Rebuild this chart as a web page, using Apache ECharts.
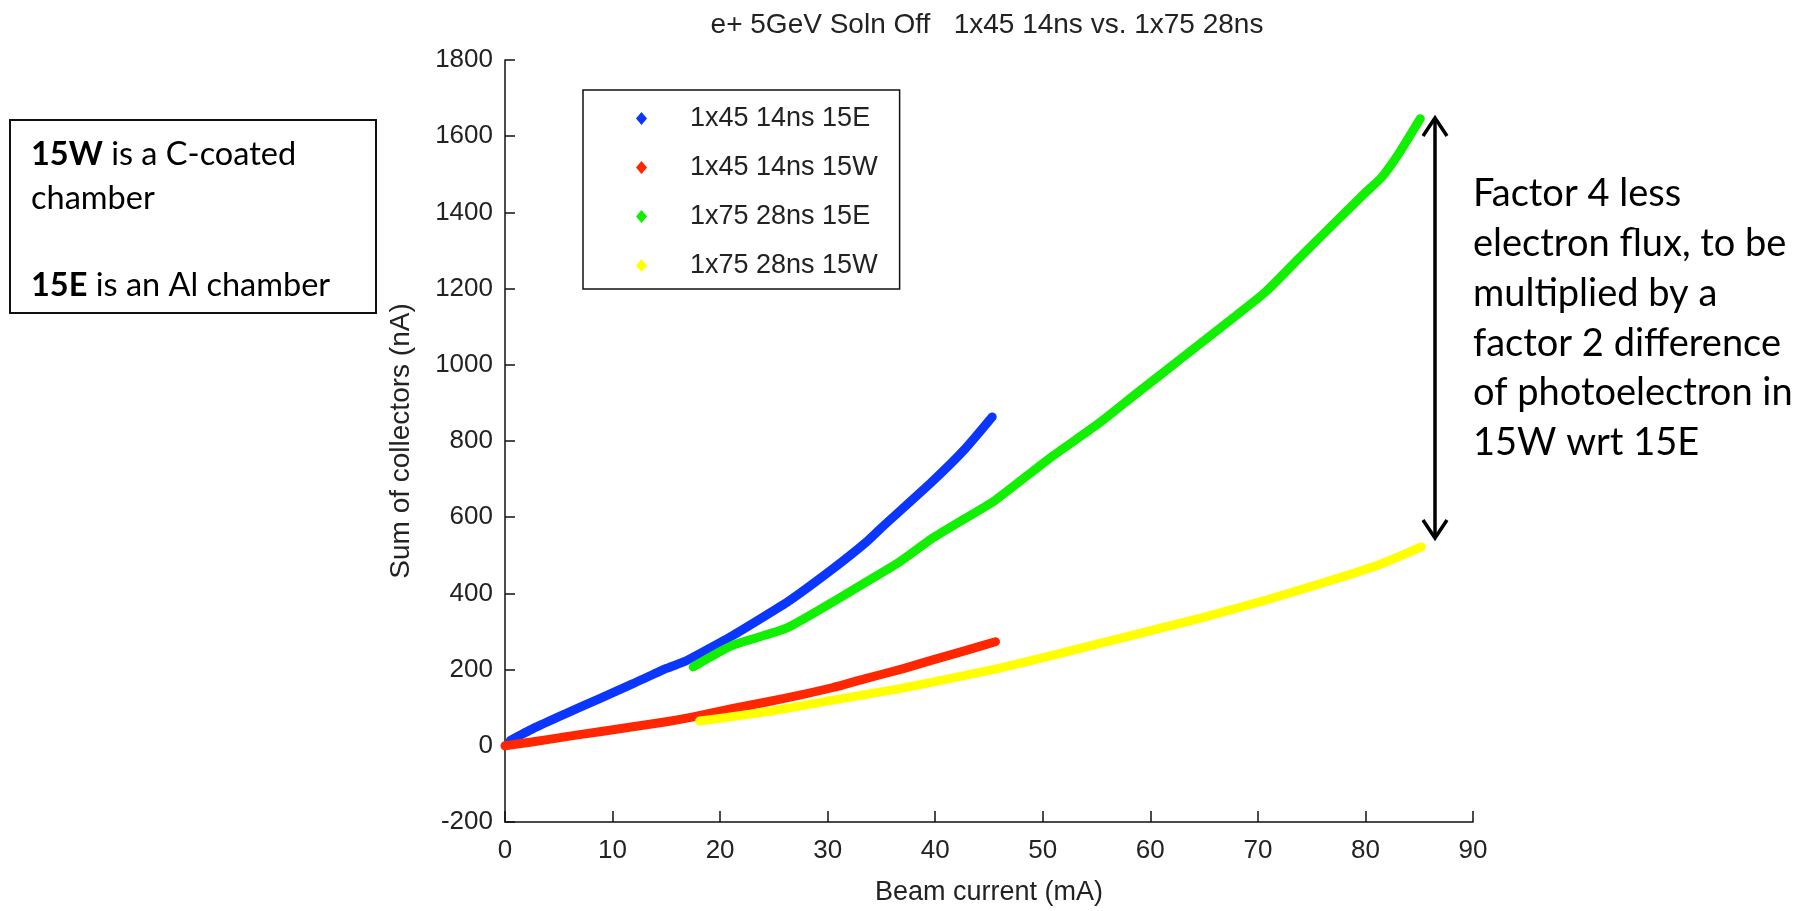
<!DOCTYPE html>
<html>
<head>
<meta charset="utf-8">
<script src="https://cdn.jsdelivr.net/npm/echarts@6/dist/echarts.min.js"></script>
<style>
html,body{margin:0;padding:0;background:#fff;}
#chart{width:1807px;height:911px;}
</style>
</head>
<body>
<div id="chart"></div>
<script>
// ---- data ----
const seriesNames = ['1x45 14ns 15E', '1x45 14ns 15W', '1x75 28ns 15E', '1x75 28ns 15W'];

const blueX = [0.5, 2.6, 5.7, 8.8, 11.9, 15.0, 16.6, 18.1, 21.2, 24.3, 26.5, 30.5, 33.6, 35.1, 39.7, 42.8, 45.3];
const blueY = [14, 45, 85, 124, 163, 203, 220, 242, 290, 343, 382, 465, 535, 575, 693, 780, 863];

const redX = [0, 2.5, 5.7, 8.8, 11.9, 15.0, 17.5, 21.2, 24.3, 27.4, 30.5, 33.6, 36.7, 39.7, 42.8, 45.6];
const redY = [0, 10, 24, 37, 50, 63, 76, 98, 115, 133, 153, 177, 200, 225, 250, 273];

const greenX = [17.5, 21.2, 26.1, 30.5, 33.6, 36.7, 39.7, 42.8, 45.6, 50.6, 55.2, 58.9, 62.9, 67.6, 70.7, 73.8, 76.9, 80.0, 81.5, 83.0, 85.1];
const greenY = [207, 264, 308, 378, 430, 483, 544, 597, 645, 754, 846, 929, 1017, 1121, 1191, 1279, 1366, 1452, 1492, 1550, 1646];

const yellowX = [18.1, 24.3, 30.5, 36.7, 42.8, 45.9, 52.1, 58.3, 64.5, 70.7, 76.9, 81.5, 85.2];
const yellowY = [65, 89, 120, 150, 185, 203, 246, 290, 334, 382, 435, 478, 522];

const xTicks = [0, 10, 20, 30, 40, 50, 60, 70, 80, 90];
const yTicks = [-200, 0, 200, 400, 600, 800, 1000, 1200, 1400, 1600, 1800];

const titleText = 'e+ 5GeV Soln Off   1x45 14ns vs. 1x75 28ns';
const xName = 'Beam current (mA)';
const yName = 'Sum of collectors (nA)';
const boxText = '{b|15W} is a C-coated\nchamber\n\n{b|15E} is an Al chamber';
const noteText = 'Factor 4 less\nelectron flux, to be\nmultiplied by a\nfactor 2 difference\nof photoelectron in\n15W wrt 15E';

// ---- build ----
const colors = ['#0a36ff', '#ff2600', '#10f000', '#ffff00'];
const xs = [blueX, redX, greenX, yellowX];
const ys = [blueY, redY, greenY, yellowY];
const zip = (a, b) => a.map((v, i) => [v, b[i]]);

const matFont = "'Liberation Sans', Arial, sans-serif";
const noteFont = "Lato, 'Open Sans', sans-serif";

const chart = echarts.init(document.getElementById('chart'), null, {renderer: 'canvas'});

const option = {
  animation: false,
  backgroundColor: '#ffffff',
  title: {
    text: titleText,
    left: 987,
    top: 11,
    padding: 0,
    textAlign: 'center',
    textStyle: {fontFamily: matFont, fontSize: 28, fontWeight: 'normal', color: '#222'}
  },
  grid: {left: 505, top: 60, width: 968, height: 766, containLabel: false},
  legend: {
    orient: 'vertical',
    left: 583,
    top: 90,
    icon: 'diamond',
    itemWidth: 11,
    itemHeight: 13,
    itemGap: 22,
    padding: [15, 22, 10, 53],
    borderColor: '#111',
    borderWidth: 1.5,
    backgroundColor: '#fff',
    textStyle: {fontFamily: matFont, fontSize: 27, color: '#222', padding: [0, 0, 0, 38]},
    data: seriesNames
  },
  xAxis: {
    type: 'value',
    min: xTicks[0],
    max: xTicks[xTicks.length - 1],
    interval: 10,
    name: xName,
    nameLocation: 'middle',
    nameGap: 57,
    nameTextStyle: {fontFamily: matFont, fontSize: 27, color: '#222'},
    axisLine: {show: true, onZero: false, lineStyle: {color: '#111', width: 1.5}},
    axisTick: {show: true, inside: true, length: 11, lineStyle: {color: '#111', width: 1.5}},
    axisLabel: {fontFamily: matFont, fontSize: 26, color: '#222', margin: 16, formatter: v => String(v)},
    splitLine: {show: false}
  },
  yAxis: {
    type: 'value',
    min: yTicks[0],
    max: yTicks[yTicks.length - 1],
    interval: 200,
    name: yName,
    nameLocation: 'middle',
    nameGap: 90,
    nameTextStyle: {fontFamily: matFont, fontSize: 28, color: '#222'},
    axisLine: {show: true, onZero: false, lineStyle: {color: '#111', width: 1.5}},
    axisTick: {show: true, inside: true, length: 10, lineStyle: {color: '#111', width: 1.5}},
    axisLabel: {fontFamily: matFont, fontSize: 26, color: '#222', margin: 12, formatter: v => String(v)},
    splitLine: {show: false}
  },
  series: seriesNames.map((n, i) => ({
    name: n,
    type: 'line',
    data: zip(xs[i], ys[i]),
    smooth: 0.2,
    showSymbol: false,
    symbol: 'diamond',
    color: colors[i],
    itemStyle: {color: colors[i]},
    lineStyle: {color: colors[i], width: 9, cap: 'round', join: 'round'},
    z: 2 + i
  })),
  graphic: [
    {
      type: 'group',
      children: [
        {type: 'rect', shape: {x: 10, y: 120, width: 366, height: 193},
         style: {fill: '#fff', stroke: '#111', lineWidth: 2}},
        {type: 'text', x: 31, y: 133,
         style: {text: boxText, fontFamily: noteFont, fontSize: 32.5, lineHeight: 43.5, fill: '#000',
                 rich: {b: {fontFamily: noteFont, fontSize: 32.5, fontWeight: 'bold', lineHeight: 43.5, fill: '#000'}}}}
      ]
    },
    {
      type: 'group',
      children: [
        {type: 'line', shape: {x1: 1435, y1: 120, x2: 1435, y2: 535},
         style: {stroke: '#000', lineWidth: 3.5}},
        {type: 'polyline', shape: {points: [[1423, 136], [1435, 118], [1447, 136]]},
         style: {stroke: '#000', lineWidth: 3.5, fill: null, lineJoin: 'miter'}},
        {type: 'polyline', shape: {points: [[1423, 520], [1435, 538], [1447, 520]]},
         style: {stroke: '#000', lineWidth: 3.5, fill: null, lineJoin: 'miter'}}
      ]
    },
    {type: 'text', x: 1473, y: 169,
     style: {text: noteText, fontFamily: noteFont, fontSize: 38, lineHeight: 49.8, fill: '#000'}}
  ]
};
chart.setOption(option);
</script>
</body>
</html>
